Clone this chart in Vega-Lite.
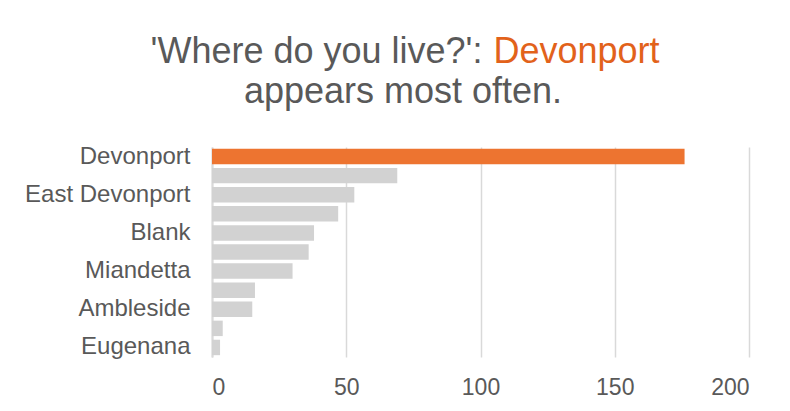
{
  "$schema": "https://vega.github.io/schema/vega-lite/v6.json",
  "width": 537,
  "height": 210,
  "autosize": "none",
  "padding": {"left": 212, "top": 147, "right": 41, "bottom": 54},
  "background": "white",
  "title": {
    "text": "appears most often.",
    "frame": "group",
    "anchor": "middle",
    "dx": -77.5,
    "offset": -106,
    "baseline": "alphabetic",
    "font": "Liberation Sans",
    "fontSize": 36,
    "fontWeight": "normal",
    "color": "#595959"
  },
  "data": {
    "values": [
      {"place": "Devonport", "count": 176},
      {"place": "Spreyton", "count": 69},
      {"place": "East Devonport", "count": 53},
      {"place": "Quoile", "count": 47},
      {"place": "Blank", "count": 38},
      {"place": "Latrobe", "count": 36},
      {"place": "Miandetta", "count": 30},
      {"place": "Don", "count": 16},
      {"place": "Ambleside", "count": 15},
      {"place": "Stony Rise", "count": 4},
      {"place": "Eugenana", "count": 3}
    ]
  },
  "mark": {"type": "bar"},
  "encoding": {
    "y": {
      "field": "place",
      "type": "nominal",
      "sort": null,
      "scale": {"paddingInner": 0.19, "paddingOuter": 0.095},
      "axis": {
        "title": "'Where do you live?':",
        "titleAngle": 0,
        "titleAlign": "right",
        "titleBaseline": "alphabetic",
        "titleX": 270,
        "titleY": -85,
        "titleFont": "Liberation Sans",
        "titleFontSize": 36,
        "titleFontWeight": "normal",
        "titleColor": "#595959",
        "labelExpr": "indexof(['Devonport','East Devonport','Blank','Miandetta','Ambleside','Eugenana'], datum.value) >= 0 ? datum.label : ''",
        "labelFont": "Liberation Sans",
        "labelFontSize": 24,
        "labelColor": "#595959",
        "labelPadding": 22,
        "ticks": false,
        "tickSize": 0,
        "domain": true,
        "domainColor": "#D9D9D9",
        "domainWidth": 2,
        "grid": false,
        "labelOverlap": false
      }
    },
    "x": {
      "field": "count",
      "type": "quantitative",
      "scale": {"domain": [0, 200], "nice": false},
      "axis": {
        "title": "Devonport",
        "titleAngle": 0,
        "titleAlign": "left",
        "titleBaseline": "alphabetic",
        "titleX": 281,
        "titleY": -295,
        "titleFont": "Liberation Sans",
        "titleFontSize": 36,
        "titleFontWeight": "normal",
        "titleColor": "#E2621B",
        "values": [0, 50, 100, 150, 200],
        "labelFont": "Liberation Sans",
        "labelFontSize": 23,
        "labelColor": "#595959",
        "labelPadding": 19,
        "ticks": false,
        "tickSize": 0,
        "domain": false,
        "grid": true,
        "gridColor": "#D9D9D9",
        "gridWidth": 1.5
      }
    },
    "color": {
      "condition": {"test": "datum.place === 'Devonport'", "value": "#ED7430"},
      "value": "#D2D2D2"
    }
  },
  "config": {"view": {"stroke": null}}
}
